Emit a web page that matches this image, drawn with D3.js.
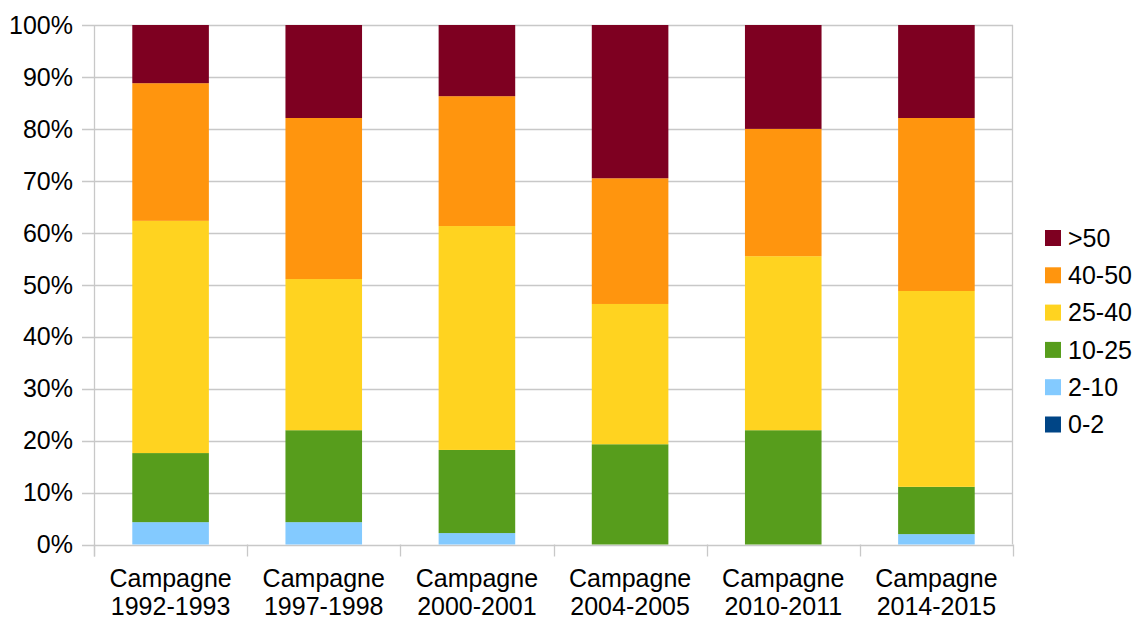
<!DOCTYPE html>
<html>
<head>
<meta charset="utf-8">
<script src="https://cdn.jsdelivr.net/npm/d3@7/dist/d3.min.js"></script>
<style>
  html, body { margin: 0; padding: 0; background: #fff; }
  svg { display: block; font-family: "Liberation Sans", Arial, sans-serif; }
</style>
</head>
<body>
<svg id="chart" width="1136" height="618"></svg>
<script>
// Campaigns (two-line labels)
const categories = [
  "Campagne 1992-1993",
  "Campagne 1997-1998",
  "Campagne 2000-2001",
  "Campagne 2004-2005",
  "Campagne 2010-2011",
  "Campagne 2014-2015"
];

// Share of each class per campaign, in percent (stacked bottom to top)
const series02   = [0, 0, 0, 0, 0, 0];
const series210  = [4.3, 4.3, 2.2, 0, 0, 2.0];
const series1025 = [13.3, 17.7, 16.0, 19.3, 22.0, 9.1];
const series2540 = [44.7, 29.1, 43.1, 27.0, 33.5, 37.7];
const series4050 = [26.5, 31.0, 25.0, 24.2, 24.5, 33.3];
const series50   = [11.2, 17.9, 13.7, 29.5, 20.0, 17.9];

const seriesNames = ["0-2", "2-10", "10-25", "25-40", "40-50", ">50"];
const yTicks = [0, 10, 20, 30, 40, 50, 60, 70, 80, 90, 100];

(function drawChart() {
  const seriesValues = [series02, series210, series1025, series2540, series4050, series50];
  const colors = ["#004586", "#83caff", "#579d1c", "#ffd320", "#ff950e", "#7e0021"];

  const rows = categories.map((c, i) => {
    const r = { cat: c };
    seriesNames.forEach((s, k) => { r[s] = seriesValues[k][i]; });
    return r;
  });

  const svg = d3.select("#chart");
  const plotLeft = 94, plotRight = 1013, plotTop = 25, plotBottom = 544.5;
  const fontSize = 25;

  const x = d3.scaleBand().domain(categories).range([plotLeft, plotRight]).paddingInner(0.5).paddingOuter(0.25);
  const y = d3.scaleLinear().domain([0, 100]).range([plotBottom, plotTop]);
  const color = d3.scaleOrdinal().domain(seriesNames).range(colors);

  const gridColor = "#c8c8c8";

  // Horizontal gridlines with left tick stubs
  svg.append("g")
    .selectAll("line")
    .data(yTicks)
    .join("line")
    .attr("x1", plotLeft - 12)
    .attr("x2", plotRight)
    .attr("y1", d => Math.round(y(d)) + 0.5)
    .attr("y2", d => Math.round(y(d)) + 0.5)
    .attr("stroke", gridColor)
    .attr("stroke-width", 1.3);

  // Y tick labels
  svg.append("g")
    .selectAll("text")
    .data(yTicks)
    .join("text")
    .attr("x", 73)
    .attr("y", d => y(d))
    .attr("dy", "0.35em")
    .attr("text-anchor", "end")
    .attr("font-size", fontSize)
    .attr("fill", "#000")
    .text(d => d + "%");

  // Stacked bars
  const layers = d3.stack().keys(seriesNames)(rows);

  svg.append("g")
    .selectAll("g")
    .data(layers)
    .join("g")
    .attr("fill", d => color(d.key))
    .selectAll("rect")
    .data(d => d)
    .join("rect")
    .attr("x", d => x(d.data.cat))
    .attr("width", x.bandwidth())
    .attr("y", d => y(d[1]))
    .attr("height", d => Math.max(0, y(d[0]) - y(d[1])));

  // Axis frame and category boundary ticks
  const boundaries = d3.range(categories.length + 1)
    .map(i => plotLeft + i * (plotRight - plotLeft) / categories.length);

  svg.append("line")
    .attr("x1", plotLeft + 0.5).attr("x2", plotLeft + 0.5)
    .attr("y1", plotTop).attr("y2", plotBottom + 12)
    .attr("stroke", gridColor).attr("stroke-width", 1.3);

  svg.append("line")
    .attr("x1", plotRight - 0.5).attr("x2", plotRight - 0.5)
    .attr("y1", plotTop).attr("y2", plotBottom)
    .attr("stroke", gridColor).attr("stroke-width", 1.3);

  svg.append("g")
    .selectAll("line")
    .data(boundaries)
    .join("line")
    .attr("x1", d => Math.round(d) + 0.5)
    .attr("x2", d => Math.round(d) + 0.5)
    .attr("y1", plotBottom)
    .attr("y2", plotBottom + 12)
    .attr("stroke", gridColor)
    .attr("stroke-width", 1.3);

  // Category labels, two lines each
  svg.append("g")
    .selectAll("text")
    .data(categories)
    .join("text")
    .attr("text-anchor", "middle")
    .attr("font-size", fontSize)
    .attr("fill", "#000")
    .each(function(d) {
      const parts = d.split(" ");
      const cx = x(d) + x.bandwidth() / 2;
      const t = d3.select(this);
      t.append("tspan").attr("x", cx).attr("y", 587).text(parts[0]);
      t.append("tspan").attr("x", cx).attr("y", 615).text(parts[1]);
    });

  // Legend (top entry is the top of the stack)
  const legendOrder = seriesNames.slice().reverse();
  const lg = svg.append("g")
    .selectAll("g")
    .data(legendOrder)
    .join("g")
    .attr("transform", (d, i) => `translate(1045, ${230 + i * 37.3})`);

  lg.append("rect")
    .attr("width", 16)
    .attr("height", 16)
    .attr("fill", d => color(d));

  lg.append("text")
    .attr("x", 23)
    .attr("y", 16.8)
    .attr("font-size", fontSize)
    .attr("fill", "#000")
    .text(d => d);
})();
</script>
</body>
</html>
